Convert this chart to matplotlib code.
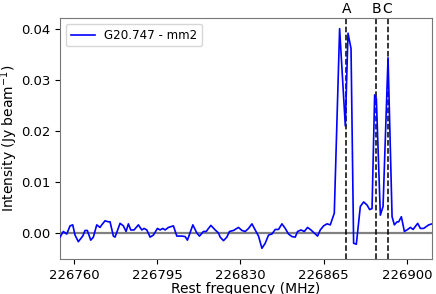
import numpy as np
import matplotlib
matplotlib.use("Agg")
import matplotlib.pyplot as plt

# spectrum (rest frequency in MHz, intensity in Jy/beam)
freq = [
    226754.11, 226755.49, 226756.93, 226758.32, 226759.45, 226760.42, 226761.81,
    226763.66, 226764.63, 226765.60, 226767.03, 226768.13, 226769.56, 226770.95,
    226771.66, 226773.05, 226774.44, 226775.16, 226776.55, 226777.26, 226779.37,
    226780.76, 226781.89, 226782.86, 226783.87, 226785.26, 226787.07, 226788.51,
    226789.47, 226790.61, 226792.00, 226793.39, 226795.07, 226796.21, 226797.35,
    226798.32, 226799.71, 226801.81, 226803.24, 226805.35, 226806.74, 226807.71,
    226809.98, 226811.66, 226812.76, 226814.44, 226815.58, 226817.56, 226819.37,
    226820.76, 226821.47, 226822.86, 226824.29, 226825.39, 226827.07, 226829.18,
    226830.61, 226832.00, 226833.39, 226834.82, 226836.21, 226837.60, 226839.03,
    226840.42, 226841.81, 226843.24, 226844.63, 226846.02, 226847.45, 226848.84,
    226850.23, 226851.66, 226853.05, 226854.02, 226855.45, 226856.84, 226858.23,
    226859.66, 226861.05, 226862.44, 226863.58, 226864.97, 226866.40, 226867.79,
    226869.47, 226871.71, 226874.11, 226875.24, 226876.51, 226877.60, 226878.74,
    226880.42, 226881.81, 226883.24, 226884.34, 226885.35, 226886.44, 226887.16,
    226888.84, 226889.98, 226892.08, 226893.77, 226894.74, 226895.87, 226896.55,
    226897.68, 226898.95, 226900.34, 226901.47, 226902.61, 226904.55, 226905.68,
    226907.07, 226909.18, 226910.61,
]
intensity = [
    -0.0008, 0.0003, -0.0002, 0.0014, 0.0016, -0.0004, -0.0017,
    -0.0006, 0.0005, 0.0005, -0.0014, -0.0008, 0.0016, 0.0011,
    0.0016, 0.0024, 0.0022, 0.0022, -0.0006, -0.0008, 0.0019,
    0.0014, 0.0003, 0.0018, 0.0006, 0.0006, 0.0016, 0.0006,
    0.0009, 0.0006, -0.0008, -0.0004, 0.0009, 0.0006, 0.0009,
    0.0006, 0.0011, 0.0014, -0.0006, -0.0006, -0.0007, -0.0014,
    0.0016, 0.0000, -0.0006, 0.0003, 0.0003, 0.0015, 0.0006,
    0.0000, -0.0008, -0.0015, -0.0008, 0.0003, 0.0005, 0.0011,
    0.0005, 0.0003, 0.0009, 0.0018, 0.0006, -0.0006, -0.0030,
    -0.0020, -0.0004, -0.0002, 0.0007, 0.0007, 0.0018, 0.0009,
    -0.0002, -0.0007, -0.0008, 0.0003, 0.0006, 0.0003, 0.0011,
    0.0006, 0.0000, -0.0006, 0.0006, 0.0014, 0.0018, 0.0016,
    0.0039, 0.0401, 0.0210, 0.0392, 0.0362, -0.0020, -0.0022,
    0.0052, 0.0061, 0.0055, 0.0046, 0.0048, 0.0271, 0.0264,
    0.0035, 0.0052, 0.0344, 0.0032, 0.0016, 0.0022, 0.0022,
    0.0032, 0.0003, 0.0007, 0.0011, 0.0007, 0.0019, 0.0009,
    0.0009, 0.0016, 0.0018,
]

line_names = ["A", "B", "C"]
line_freqs = [226874.5, 226887.0, 226891.9]

xticks = [226760, 226795, 226830, 226865, 226900]
yticks = [0.00, 0.01, 0.02, 0.03, 0.04]

fig = plt.figure(figsize=(4.36, 2.94), dpi=100)
ax = fig.add_axes([0.1376, 0.119, 0.8534, 0.82])

ax.axhline(0, color="gray", lw=1.6, zorder=1)
ax.plot(freq, intensity, color="blue", lw=1.2, label="G20.747 - mm2", zorder=3)

for name, f in zip(line_names, line_freqs):
    ax.axvline(f, color="black", ls="--", lw=1.1, zorder=2)
    ax.text(f, 1.01, name, transform=ax.get_xaxis_transform(),
            ha="center", va="bottom", fontsize=10)

ax.set_xlim(226754.1, 226910.6)
ax.set_ylim(-0.0051, 0.0422)
ax.set_xticks(xticks)
ax.set_yticks(yticks)
ax.tick_params(labelsize=9.5)
ax.set_xlabel("Rest frequency (MHz)", fontsize=10)
ax.set_ylabel("Intensity (Jy beam$^{-1}$)", fontsize=10)
ax.xaxis.set_label_coords(0.5, -0.095)
ax.yaxis.set_label_coords(-0.108, 0.5)
for s in ax.spines.values():
    s.set_color("#777777")

ax.legend(loc="upper left", fontsize=8.6, handlelength=2.0)

fig.savefig("out.png", dpi=100)
